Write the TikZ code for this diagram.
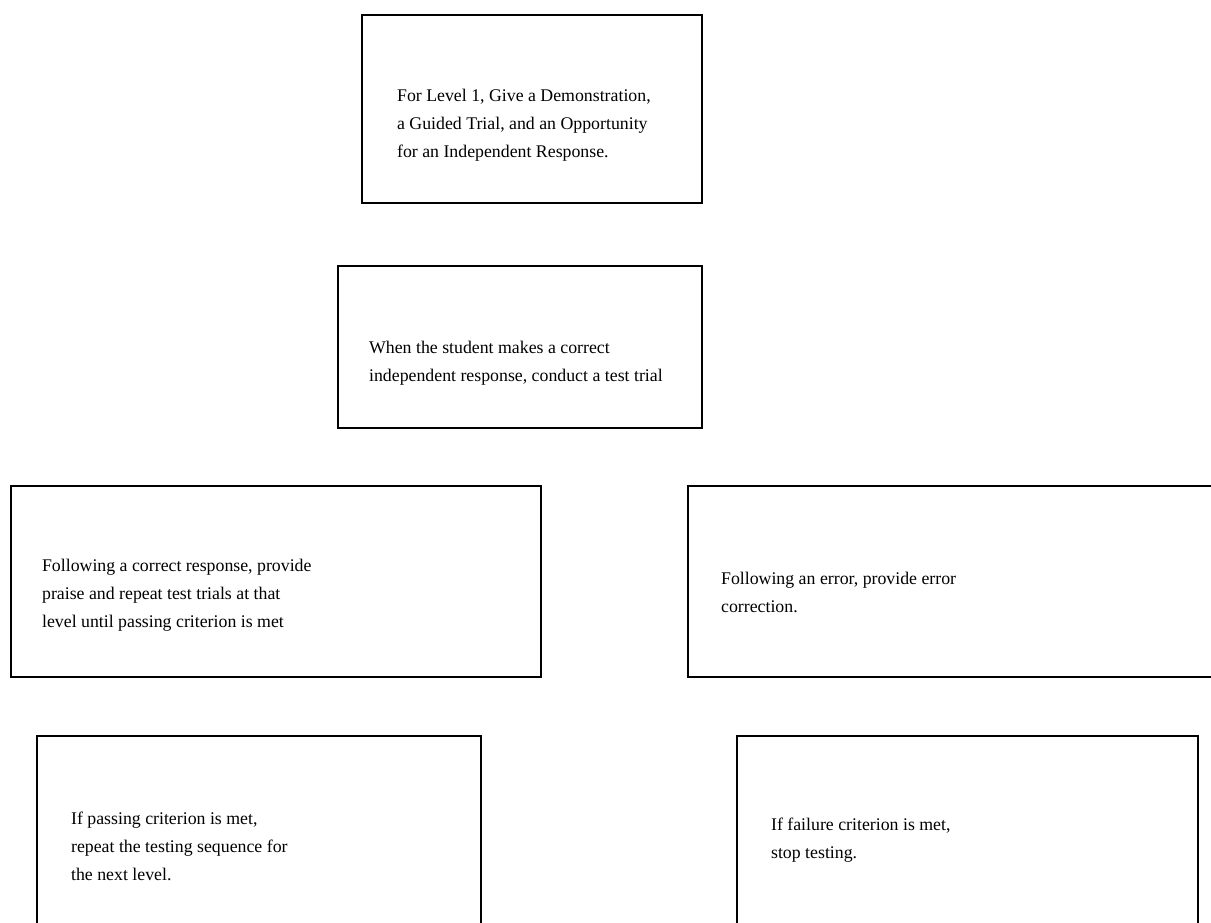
\documentclass[tikz,border=0pt]{standalone}
\usepackage{fontspec}
\setmainfont{Liberation Serif}
\usetikzlibrary{positioning}

\begin{document}
\begin{tikzpicture}[x=1pt,y=-1pt,
    panel/.style={draw,line width=2.2pt,inner sep=0pt},
    txt/.style={align=left,inner sep=0pt,font=\fontsize{17.8}{28}\selectfont}]
  \useasboundingbox (0,0) rectangle (1211,922);
  % the boxes
  \node[panel,minimum width=340pt,minimum height=188pt] (lvl)  at (532,109) {};
  \node[panel,minimum width=364pt,minimum height=162pt] (test) at (520,347) {};
  \node[panel,minimum width=530pt,minimum height=191pt] (corr) at (276,581.5) {};
  \node[panel,minimum width=542pt,minimum height=191pt] (err)  at (959,581.5) {};
  \node[panel,minimum width=444pt,minimum height=204pt] (pass) at (259,838) {};
  \node[panel,minimum width=461pt,minimum height=204pt] (fail) at (967.5,838) {};
  % the texts
  \node[txt,below right=75pt and 36pt of lvl.north west] (lvl_t)
    {For Level 1, Give a Demonstration,\\a Guided Trial, and an Opportunity\\for an Independent Response.};
  \node[txt,below right=76pt and 32pt of test.north west] (test_t)
    {When the student makes a correct\\independent response, conduct a test trial};
  \node[txt,below right=74pt and 32pt of corr.north west] (corr_t)
    {Following a correct response, provide\\praise and repeat test trials at that\\level until passing criterion is met};
  \node[txt,below right=87pt and 34pt of err.north west] (err_t)
    {Following an error, provide error\\correction.};
  \node[txt,below right=77pt and 35pt of pass.north west] (pass_t)
    {If passing criterion is met,\\repeat the testing sequence for\\the next level.};
  \node[txt,below right=83pt and 35pt of fail.north west] (fail_t)
    {If failure criterion is met,\\stop testing.};
\end{tikzpicture}
\end{document}
